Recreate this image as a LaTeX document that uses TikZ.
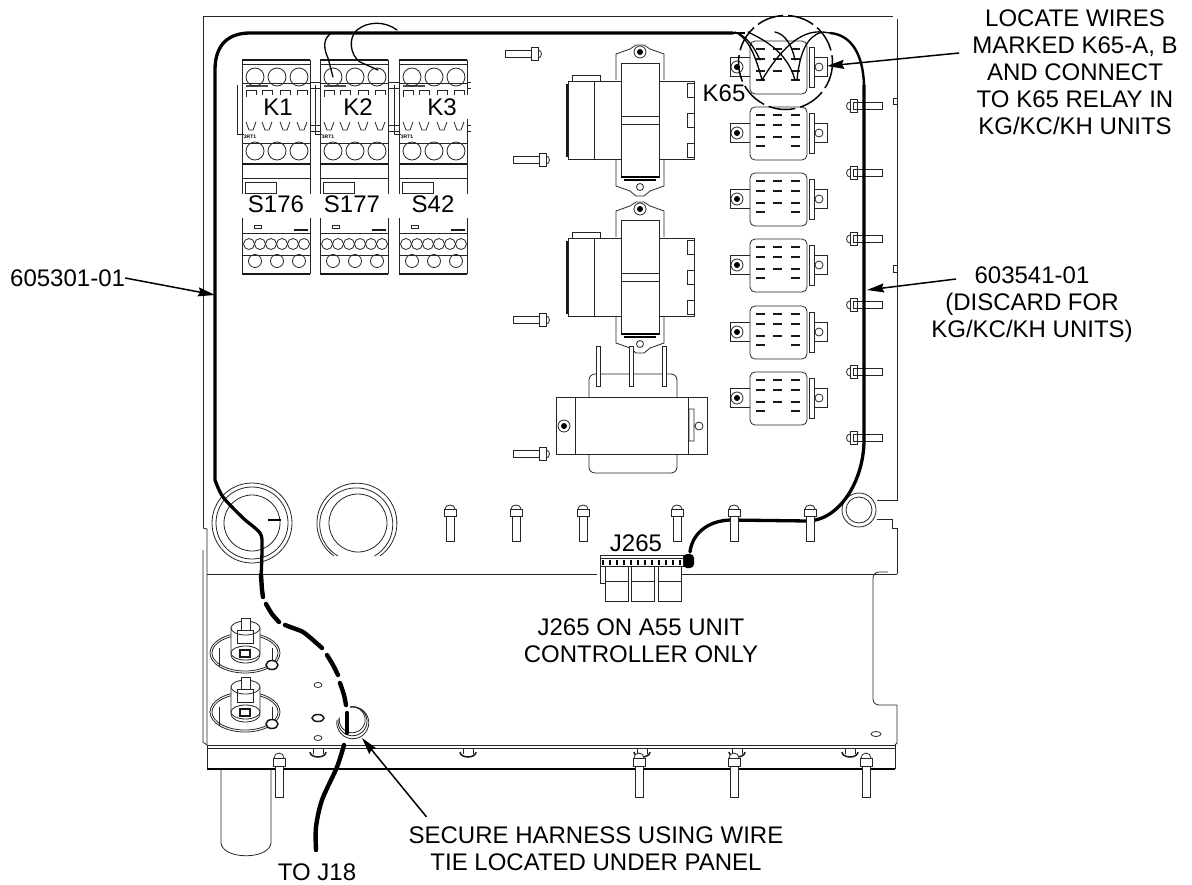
\documentclass[tikz,border=0pt]{standalone}
\usepackage{fontspec}
\setmainfont{Liberation Sans}
\usetikzlibrary{arrows.meta}
\tikzset{
  part/.style={line width=0.8pt,black!85},
  heavy/.style={line width=1.5pt,black!90},
  wire/.style={line width=3.3pt,line cap=round,line join=round},
  fatwire/.style={line width=4.4pt,line cap=round,line join=round},
  thinwire/.style={line width=1.3pt,line cap=round},
  tag/.style={font=\fontsize{24}{27}\selectfont,inner sep=0pt,align=center},
  ktag/.style={tag,fill=white,minimum width=60pt,minimum height=24pt},
  leader/.style={line width=1.5pt,-{Stealth[length=17pt,width=9pt,inset=2pt]}}
}
\begin{document}
\begin{tikzpicture}[x=1pt,y=-1pt]
\useasboundingbox (0,0) rectangle (1192,884);
% chapa
\draw[part] (203,528) -- (203,16) -- (893,16);
\draw[part] (203,528) -- (207,529) -- (207,745);
\draw[part] (203,550) -- (203,742) -- (207,745);
\draw[part] (897,19) -- (897,500) -- (877,500);
\draw[part] (877,519) -- (892,519) -- (892,528) -- (897,528) -- (897,574);
\draw[part] (893,98) -- (897,98) (893,104) -- (897,104) (893,98) -- (893,104);
\draw[part] (893,265) -- (897,265) (893,272) -- (897,272) (893,265) -- (893,272);
\draw[part] (207,574) -- (597,574) (682,574) -- (897,574);
\draw[part,rounded corners=6pt] (888,572) -- (873,572) -- (873,705) -- (897,705);
\draw[part] (897,705) -- (897,743) -- (895,745);
\draw[part] (207,745) -- (895,745) (207,748) -- (895,748);
\draw[part] (207,745) -- (207,769) (895,745) -- (895,769);
\draw[line width=1.3pt] (207,769) -- (895,769);
\draw[part] (221,769) -- (221,843) .. controls (223,860) and (269,860) .. (271,843) -- (271,769);
\draw[part] (876,734) ellipse [x radius=5,y radius=2.5];
% aros
\foreach \r in {40,36,28} \draw[part] (252,523) circle [radius=\r];
\draw[part] (358,523) circle [radius=29];
\draw[part] (334,556) arc [start angle=125,end angle=415,radius=40];
\draw[part] (338,556) arc [start angle=120,end angle=420,radius=36.5];
\draw[line width=2pt] (268,520) -- (281,520);
\draw[part] (859,510) circle [radius=17] (859,510) circle [radius=13];
% contactores
\foreach \c in {242,320,399} {
  \draw[part] (\c,60) -- (\c,274) (\c+68,60) -- (\c+68,274);
  \draw[heavy] (\c,60) -- (\c+68,60);
  \draw[part] (\c,64) -- (\c+68,64) (\c,83) -- (\c+68,83);
  \draw[part] (\c-5,85) -- (\c-5,134) -- (\c+2,134);
  \draw[line width=2pt,black!70] (\c+4,86) -- (\c+26,86);
  \foreach \o in {9,25,43,60} {
    \draw[part] (\o+\c-5,97) -- (\o+\c-5,90) -- (\o+\c+5,90) -- (\o+\c+5,97);
    \draw[part] (\o+\c-5,122) -- (\o+\c-2,130) -- (\o+\c+2,130) -- (\o+\c+5,122);
  }
  \draw[part] (\c,143) -- (\c+68,143) (\c,178) -- (\c+68,178) (\c,233) -- (\c+68,233) (\c,255) -- (\c+68,255);
  \draw[heavy] (\c,164) -- (\c+68,164) (\c,274) -- (\c+68,274);
  \foreach \o in {13,35,57} {
    \draw[part] (\c+\o,77) circle [radius=9];
    \draw[part] (\c+\o,151) circle [radius=9];
    \draw[part] (\c+\o,261) circle [radius=6.5];
  }
  \foreach \o in {7,18,...,62} \draw[part] (\c+\o,244) circle [radius=5.5];
  \draw[part] (\c+3,182) rectangle (\c+34,193);
  \draw[part] (\c+12,225) rectangle (\c+19,228);
  \draw[heavy] (\c+52,230) -- (\c+66,230);
  \fill[white] (\c-1,194) rectangle (\c+70,218);
  \node[inner sep=0pt,font=\fontsize{5}{5}\selectfont\bfseries] (trt\c) at (\c+8,137) {3RT1};
}
\foreach \c/\e in {310/320,389/399,467/471} {
  \draw[part] (\c,82) -- (\e,82) (\c,88) -- (\e,88);
  \draw[part] (\c,125) -- (\e,125) (\c,131) -- (\e,131);
}
% trafos
\foreach \t in {0,157} {
  \draw[part] (616,80+\t) -- (616,54+\t) -- (630,49+\t) -- (636,45+\t) -- (644,45+\t) -- (650,49+\t) -- (664,54+\t) -- (664,80+\t);
  \draw[part] (616,159+\t) -- (616,186+\t) -- (630,191+\t) -- (636,196+\t) -- (644,196+\t) -- (650,191+\t) -- (664,186+\t) -- (664,159+\t);
  \draw[part] (621,63+\t) rectangle (659,177+\t);
  \draw[part] (621,116+\t) -- (659,116+\t) (621,124+\t) -- (659,124+\t);
  \draw[line width=1.4pt] (621,177+\t) -- (659,177+\t) (624,180+\t) -- (656,180+\t);
  \draw[part] (568,81+\t) rectangle (621,159+\t) (594,81+\t) -- (594,159+\t);
  \draw[part] (659,81+\t) rectangle (694,159+\t);
  \draw[part] (572,81+\t) -- (572,75+\t) -- (600,75+\t) -- (600,81+\t);
  \draw[heavy] (567,84+\t) -- (567,157+\t);
  \foreach \p in {83,113,143} \draw[part,fill=white] (687,\p+\t) rectangle (694,\p+14+\t);
  \draw[part] (640,52+\t) circle [radius=6];
  \fill (640,52+\t) circle [radius=3];
  \draw[part] (640,187+\t) circle [radius=3.5];
}
\draw[part,rounded corners=6pt] (589,397) -- (589,374) -- (677,374) -- (677,397);
\draw[part,rounded corners=6pt] (589,454) -- (589,473) -- (677,473) -- (677,454);
\draw[part] (556,397) rectangle (707,454) (575,397) -- (575,454) (688,397) -- (688,454);
\draw[part] (689,409) rectangle (694,441) (699,426) circle [radius=4];
\draw[part] (564,426) circle [radius=6];
\fill (564,426) circle [radius=3];
\foreach \x in {598,631,664} \draw[part,fill=white] (\x-2,346) rectangle (\x+2,386);
% reles
\foreach \y in {67,133,199,265,332,398} {
  \draw[part] (750,\y-10) -- (730,\y-10) -- (730,\y+9) -- (750,\y+9);
  \draw[part] (815,\y-10) -- (827,\y-10) -- (827,\y+9) -- (815,\y+9);
  \draw[part,rounded corners=5pt] (750,\y-26) rectangle (807,\y+27);
  \draw[part] (809,\y-20) rectangle (814,\y+20);
  \draw[part] (819,\y) circle [radius=4];
  \draw[part] (737,\y) circle [radius=6];
  \fill (737,\y) circle [radius=3];
  \foreach \d in {-18,-8,4,13} {
    \draw[heavy] (756,\y+\d) -- (765,\y+\d) (791,\y+\d) -- (800,\y+\d);
  }
  \foreach \d in {-18,-8,4} \draw[heavy] (773,\y+\d) -- (782,\y+\d);
}
% patillas
\foreach \y in {106,173,239,305,372,438} {
  \draw[part] (853,\y-3.5) rectangle (882,\y+3.5);
  \draw[part,fill=white] (850,\y-4) arc [start angle=270,end angle=90,x radius=3.5,y radius=4];
  \draw[part] (850,\y-6.5) rectangle (857,\y+6.5);
}
\foreach \x/\y in {505/54,513/160,513/320,513/454} {
  \draw[part,fill=white] (\x,\y-3.5) rectangle (\x+26,\y+3.5);
  \draw[part,fill=white] (\x+33,\y-4) arc [start angle=-90,end angle=90,x radius=3.5,y radius=4];
  \draw[part,fill=white] (\x+26,\y-6.5) rectangle (\x+33,\y+6.5);
}
% arandelas abajo
\foreach \x in {318,468,642,737,850} {
  \draw[part] (\x-5,748) -- (\x-5,754) (\x+5,748) -- (\x+5,754);
  \draw[heavy] (\x-8,752) arc [start angle=180,end angle=0,x radius=8,y radius=5];
}
% ojales
\foreach \h in {0,59} {
  \draw[part] (245,653+\h) ellipse [x radius=35,y radius=20];
  \draw[part] (245,653+\h) ellipse [x radius=33,y radius=18];
  \draw[part] (219,648+\h) -- (219,667+\h) (272,648+\h) -- (272,667+\h);
  \draw[part,fill=white] (231,628+\h) -- (231,655+\h) arc [start angle=180,end angle=0,x radius=14.5,y radius=8] -- (260,628+\h) -- cycle;
  \draw[part,fill=white] (245.5,628+\h) ellipse [x radius=14.5,y radius=7];
  \draw[part,fill=white] (245.5,653+\h) ellipse [x radius=14.5,y radius=7];
  \draw[part,fill=white] (241,618+\h) rectangle (250,630+\h);
  \draw[part] (237,630+\h) rectangle (253,643+\h);
  \draw[heavy] (240,650+\h) rectangle (250,657+\h);
  \draw[heavy,fill=white] (272,665+\h) ellipse [x radius=6,y radius=4.5];
}
\draw[part] (318,685) ellipse [x radius=4,y radius=2.5] (318,738) ellipse [x radius=4,y radius=2.5];
\draw[heavy] (318,718) ellipse [x radius=6,y radius=3.5];
\foreach \r in {13,14.5,16} \draw[part] (350,707) arc [start angle=-100,end angle=190,radius=\r];
% cables
\draw[wire] (733,33) -- (250,33) .. controls (228,33) and (215,45) .. (215,70) -- (215,480)
  plot[smooth] coordinates {(215,480) (223,497) (243,518) (260,533) (262,547) (261,580)};
\draw[fatwire] (261,575) -- (262,590) -- (263,597);
\draw[fatwire] plot[smooth] coordinates {(266,604) (272,614) (279,622)};
\draw[fatwire] plot[smooth] coordinates {(285,625) (293,628) (303,632) (313,640) (322,648)};
\draw[fatwire] plot[smooth] coordinates {(327,655) (333,665) (338,675)};
\draw[fatwire] plot[smooth] coordinates {(340,683) (344,695) (346,705)};
\draw[fatwire] (347,713) -- (347,733);
\draw[fatwire] plot[smooth] coordinates {(344,745) (337,767) (322,800) (316,827) (316,850)};
\draw[wire] (690,552) .. controls (692,535) and (706,521) .. (730,520) -- (808,521) .. controls (840,520) and (864,480) .. (864,440) -- (864,85);
\draw[line width=2.4pt] (864,85) .. controls (863,55) and (852,35) .. (830,33);
\draw[line width=1.4pt] (830,33) -- (823,32);
\draw[thinwire] (332,33) .. controls (322,38) and (324,50) .. (328,58) -- (333,77);
\draw[thinwire] (397,30) .. controls (385,21) and (368,21) .. (357,30) .. controls (348,38) and (350,55) .. (360,62) -- (378,70);
\foreach \a/\b/\e in {735/32/760,748/32/793} \draw[thinwire] (\a,\b) .. controls (\a+12,\b+6) and (\e-6,\b+18) .. (\e+2,80);
\draw[thinwire] (740,34) .. controls (752,42) and (756,52) .. (760,60);
\draw[thinwire] (775,32) .. controls (785,34) and (792,45) .. (795,60);
\draw[thinwire] (822,32) .. controls (800,30) and (780,50) .. (762,80);
\draw[thinwire] (822,32) .. controls (808,36) and (800,50) .. (797,80);
\draw[line width=2.6pt] (733,33) -- (745,33);
\fill[rounded corners=4pt] (683,554) rectangle (694,568);
\draw[line width=1.5pt,dash pattern=on 27pt off 5pt] (785.5,62.5) circle [radius=47];
% patillas abajo, tapan el cable
\foreach \x in {450,516,583,677,734,810} {
  \draw[part,fill=white] (\x-4,516) rectangle (\x+4,541);
  \draw[part,fill=white] (\x-5,509) arc [start angle=180,end angle=360,x radius=5,y radius=4];
  \draw[part,fill=white] (\x-6,509) rectangle (\x+6,516);
}
\foreach \x in {279,639,734,866} {
  \draw[part,fill=white] (\x-4,766) rectangle (\x+4,797);
  \draw[part,fill=white] (\x-5,758) arc [start angle=180,end angle=360,x radius=5,y radius=5];
  \draw[part,fill=white] (\x-6,758) rectangle (\x+6,766);
}
% J265
\draw[part] (600,555) rectangle (683,566) (600,566) -- (600,583) -- (605,583) (600,558) -- (683,558);
\foreach \x in {603,610,...,680} \draw[line width=1.2pt] (\x,560) -- (\x,565);
\foreach \x in {605,631,658} {
  \draw[part] (\x,566) rectangle (\x+23,601);
  \draw[part] (\x,581) -- (\x+23,581);
}
% textos
\node[ktag] (lblkone) at (278,107) {K1};
\node[ktag] (lblktwo) at (358,107) {K2};
\node[ktag] (lblkthree) at (442,107) {K3};
\node[tag] (lblsa) at (276,204) {S176};
\node[tag] (lblsb) at (352,204) {S177};
\node[tag] (lblsc) at (433,204) {S42};
\node[tag] (lblksf) at (724,93) {K65};
\node[tag] (lbljack) at (636,543) {J265};
\node[tag,anchor=west] (lblharn) at (10,278) {605301-01};
\node[tag] (lbldisc) at (1032,305) {603541-01\\(DISCARD FOR\\KG/KC/KH UNITS)};
\node[tag] (lblwires) at (1075,72) {LOCATE WIRES\\MARKED K65-A, B\\AND CONNECT\\TO K65 RELAY IN\\KG/KC/KH UNITS};
\node[tag] (lblonly) at (641,641) {J265 ON A55 UNIT\\CONTROLLER ONLY};
\node[tag] (lbltie) at (596,849) {SECURE HARNESS USING WIRE\\TIE LOCATED UNDER PANEL};
\node[tag] (lblto) at (317,872) {TO J18};
% flechas
\coordinate (tipharn) at (215,295);
\coordinate (tipdisc) at (867,290);
\coordinate (tipwires) at (827,66);
\coordinate (tiptie) at (362,738);
\draw[leader] (lblharn.east) -- (tipharn);
\draw[leader] ([xshift=25pt,yshift=26pt]lbldisc.west) -- (tipdisc);
\draw[leader] ([xshift=-13pt,yshift=19pt]lblwires.west) -- (tipwires);
\draw[leader] ([xshift=18pt,yshift=10pt]lbltie.north west) -- (tiptie);
\end{tikzpicture}
\end{document}
